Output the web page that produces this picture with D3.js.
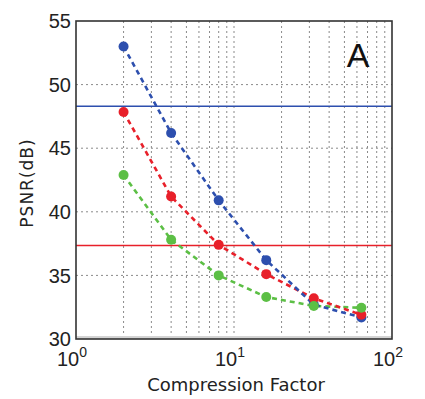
<!DOCTYPE html>
<html>
<head>
<meta charset="utf-8">
<script src="https://cdn.jsdelivr.net/npm/d3@7"></script>
<style>
  body { margin: 0; background: #fff; }
  svg { display: block; }
</style>
</head>
<body>
<svg id="chart" width="425" height="399"></svg>
<script>
var factors = [2, 4, 8, 16, 32, 64];
var blueVals = [53.0, 46.2, 40.9, 36.2, 32.7, 31.7];
var redVals = [47.85, 41.2, 37.4, 35.1, 33.2, 31.9];
var greenVals = [42.9, 37.8, 35.0, 33.3, 32.6, 32.45];
var blueRef = 48.3;
var redRef = 37.35;
var yTicks = [30, 35, 40, 45, 50, 55];
var xTicks = [1, 10, 100];

var series = [
  { name: "green", color: "#5cbf45", values: greenVals },
  { name: "red", color: "#e8202a", values: redVals },
  { name: "blue", color: "#2d4fae", values: blueVals }
];

var svg = d3.select("#chart"),
    margin = { top: 21, right: 33, bottom: 60, left: 76 },
    width = +svg.attr("width") - margin.left - margin.right,
    height = +svg.attr("height") - margin.top - margin.bottom;

var x = d3.scaleLog().domain([1, 100]).range([0, width]);
var y = d3.scaleLinear().domain([30, 55]).range([height, 0]);

var g = svg.append("g")
    .attr("transform", "translate(" + margin.left + "," + margin.top + ")");

// grid, minor verticals at every log step
var vgrid = [];
[1, 10].forEach(function(dec) {
  for (var k = 1; k <= 9; k++) {
    if (dec * k > 1) vgrid.push(dec * k);
  }
});

g.selectAll(".vgrid")
    .data(vgrid)
  .enter().append("line")
    .attr("x1", function(d) { return x(d); })
    .attr("x2", function(d) { return x(d); })
    .attr("y1", 0)
    .attr("y2", height)
    .attr("stroke", "#8a8a8a")
    .attr("stroke-width", 1)
    .attr("stroke-dasharray", "2,3");

g.selectAll(".hgrid")
    .data(yTicks.slice(1, -1))
  .enter().append("line")
    .attr("x1", 0)
    .attr("x2", width)
    .attr("y1", function(d) { return y(d); })
    .attr("y2", function(d) { return y(d); })
    .attr("stroke", "#8a8a8a")
    .attr("stroke-width", 1)
    .attr("stroke-dasharray", "2,3");

// reference lines
g.append("line")
    .attr("x1", 0).attr("x2", width)
    .attr("y1", y(blueRef)).attr("y2", y(blueRef))
    .attr("stroke", "#2d4fae")
    .attr("stroke-width", 1.6);

g.append("line")
    .attr("x1", 0).attr("x2", width)
    .attr("y1", y(redRef)).attr("y2", y(redRef))
    .attr("stroke", "#e8202a")
    .attr("stroke-width", 1.6);

var line = d3.line()
    .x(function(d) { return x(d[0]); })
    .y(function(d) { return y(d[1]); });

series.forEach(function(s) {
  var pts = factors.map(function(f, i) { return [f, s.values[i]]; });
  g.append("path")
      .datum(pts)
      .attr("d", line)
      .attr("fill", "none")
      .attr("stroke", s.color)
      .attr("stroke-width", 2.6)
      .attr("stroke-dasharray", "5,4");
});

series.slice().reverse().forEach(function(s) {
  g.selectAll(null)
      .data(factors.map(function(f, i) { return [f, s.values[i]]; }))
    .enter().append("circle")
      .attr("cx", function(d) { return x(d[0]); })
      .attr("cy", function(d) { return y(d[1]); })
      .attr("r", 5)
      .attr("fill", s.color);
});

// frame
g.append("rect")
    .attr("x", 0).attr("y", height - 3)
    .attr("width", width).attr("height", 3)
    .attr("fill", "#d4d4d4");
g.append("rect")
    .attr("width", width)
    .attr("height", height)
    .attr("fill", "none")
    .attr("stroke", "#333")
    .attr("stroke-width", 1.6);

// y axis labels
g.selectAll(".ylab")
    .data(yTicks)
  .enter().append("text")
    .attr("x", -5)
    .attr("y", function(d) { return y(d); })
    .attr("dy", "0.36em")
    .attr("text-anchor", "end")
    .attr("font-family", "Liberation Sans, Arial, sans-serif")
    .attr("font-size", 20)
    .attr("fill", "#222")
    .text(function(d) { return d; });

// x axis labels 10^n
var xl = g.selectAll(".xlab")
    .data(xTicks)
  .enter().append("text")
    .attr("x", function(d) { return x(d) - 4; })
    .attr("y", height + 27)
    .attr("text-anchor", "middle")
    .attr("font-family", "Liberation Sans, Arial, sans-serif")
    .attr("font-size", 20)
    .attr("fill", "#222");
xl.append("tspan").text("10");
xl.append("tspan")
    .attr("dy", -9)
    .attr("font-size", 14)
    .text(function(d) { return Math.round(Math.log10(d)); });

svg.append("text")
    .attr("x", 236)
    .attr("y", 391)
    .attr("text-anchor", "middle")
    .attr("font-family", "DejaVu Sans, Verdana, sans-serif")
    .attr("font-size", 18)
    .attr("fill", "#222")
    .text("Compression Factor");

svg.append("text")
    .attr("transform", "translate(33,183) rotate(-90)")
    .attr("text-anchor", "middle")
    .attr("font-family", "DejaVu Sans, Verdana, sans-serif")
    .attr("font-size", 17)
    .attr("letter-spacing", 1)
    .attr("fill", "#222")
    .text("PSNR(dB)");

g.append("text")
    .attr("x", 282)
    .attr("y", 46)
    .attr("text-anchor", "middle")
    .attr("font-family", "Liberation Sans, Arial, sans-serif")
    .attr("font-size", 34)
    .attr("fill", "#111")
    .text("A");
</script>
</body>
</html>
